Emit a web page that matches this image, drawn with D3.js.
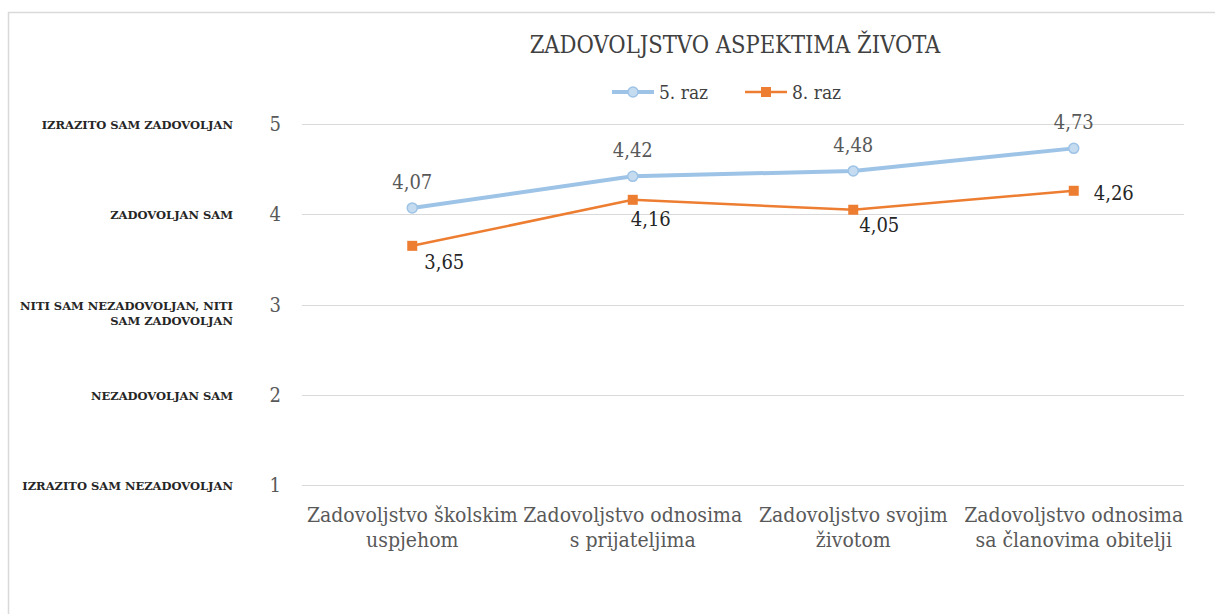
<!DOCTYPE html>
<html>
<head>
<meta charset="utf-8">
<script src="https://cdn.jsdelivr.net/npm/d3@7"></script>
<style>
  body { margin: 0; background: #fff; }
  text { font-family: "DejaVu Serif Condensed", "DejaVu Serif", serif; }
  .names text { font-family: "DejaVu Serif", serif; }
</style>
</head>
<body>
<div id="chart"></div>
<script>
// data
var categories = [
  ["Zadovoljstvo školskim", "uspjehom"],
  ["Zadovoljstvo odnosima", "s prijateljima"],
  ["Zadovoljstvo svojim", "životom"],
  ["Zadovoljstvo odnosima", "sa članovima obitelji"]
];
var raz5 = [4.07, 4.42, 4.48, 4.73];
var raz8 = [3.65, 4.16, 4.05, 4.26];
var yTicks = [1, 2, 3, 4, 5];
var yTickNames = [
  ["IZRAZITO SAM NEZADOVOLJAN"],
  ["NEZADOVOLJAN SAM"],
  ["NITI SAM NEZADOVOLJAN, NITI", "SAM ZADOVOLJAN"],
  ["ZADOVOLJAN SAM"],
  ["IZRAZITO SAM ZADOVOLJAN"]
];
var seriesNames = ["5. raz", "8. raz"];

var width = 1215, height = 614;

var svg = d3.select("#chart").append("svg")
  .attr("width", width)
  .attr("height", height);

// outer frame
svg.append("rect")
  .attr("x", 8.5).attr("y", 12.5)
  .attr("width", 1220).attr("height", 620)
  .attr("fill", "none")
  .attr("stroke", "#d9d9d9")
  .attr("stroke-width", 1.5);

var x = d3.scaleBand()
  .domain(d3.range(categories.length))
  .range([302, 1184]);

var y = d3.scaleLinear()
  .domain([1, 5])
  .range([485, 124]);

function cx(i) { return x(i) + x.bandwidth() / 2; }

// gridlines
svg.append("g")
  .selectAll("line")
  .data(yTicks)
  .enter().append("line")
    .attr("x1", 302).attr("x2", 1184)
    .attr("y1", function(d) { return Math.round(y(d)) + 0.5; })
    .attr("y2", function(d) { return Math.round(y(d)) + 0.5; })
    .attr("stroke", "#d9d9d9")
    .attr("stroke-width", 1.2);

// y tick numbers
svg.append("g")
  .selectAll("text")
  .data(yTicks)
  .enter().append("text")
    .attr("x", 281)
    .attr("y", function(d) { return y(d); })
    .attr("dy", "0.35em")
    .attr("text-anchor", "end")
    .attr("font-size", 20)
    .attr("fill", "#595959")
    .text(function(d) { return d; });

// y tick names (left column)
var names = svg.append("g")
  .attr("class", "names")
  .selectAll("text")
  .data(yTicks)
  .enter().append("text")
    .attr("text-anchor", "end")
    .attr("font-size", 11.5)
    .attr("font-weight", "bold")
    .attr("fill", "#262626")
    .attr("y", function(d) { return y(d) + 1; });

names.selectAll("tspan")
  .data(function(d, i) { return yTickNames[i]; })
  .enter().append("tspan")
    .attr("x", 233)
    .attr("dy", function(d, i) { return i === 0 ? "0.35em" : "15"; })
    .text(function(d) { return d; });

// x labels
var xl = svg.append("g")
  .selectAll("text")
  .data(categories)
  .enter().append("text")
    .attr("text-anchor", "middle")
    .attr("font-size", 21)
    .attr("fill", "#595959")
    .attr("y", 522);

xl.selectAll("tspan")
  .data(function(d) { return d; })
  .enter().append("tspan")
    .attr("x", function(d, i, n) {
      return cx(categories.indexOf(d3.select(n[i].parentNode).datum()));
    })
    .attr("dy", function(d, i) { return i === 0 ? 0 : 25; })
    .text(function(d) { return d; });

var line = d3.line()
  .x(function(d, i) { return cx(i); })
  .y(function(d) { return y(d); });

function fmt(v) { return d3.format(".2f")(v).replace(".", ","); }

// 5. raz series
svg.append("path")
  .datum(raz5)
  .attr("d", line)
  .attr("fill", "none")
  .attr("stroke", "#9dc3e6")
  .attr("stroke-width", 4);

svg.append("g")
  .selectAll("circle")
  .data(raz5)
  .enter().append("circle")
    .attr("cx", function(d, i) { return cx(i); })
    .attr("cy", function(d) { return y(d); })
    .attr("r", 5)
    .attr("fill", "#c5dcf0")
    .attr("stroke", "#9dc3e6")
    .attr("stroke-width", 1.5);

svg.append("g")
  .selectAll("text")
  .data(raz5)
  .enter().append("text")
    .attr("x", function(d, i) { return cx(i); })
    .attr("y", function(d) { return y(d) - 19; })
    .attr("text-anchor", "middle")
    .attr("font-size", 20)
    .attr("fill", "#595959")
    .text(fmt);

// 8. raz series
svg.append("path")
  .datum(raz8)
  .attr("d", line)
  .attr("fill", "none")
  .attr("stroke", "#ed7d31")
  .attr("stroke-width", 2.5);

svg.append("g")
  .selectAll("rect")
  .data(raz8)
  .enter().append("rect")
    .attr("x", function(d, i) { return cx(i) - 5; })
    .attr("y", function(d) { return y(d) - 5; })
    .attr("width", 10).attr("height", 10)
    .attr("fill", "#ed7d31");

// orange labels were nudged by hand in the original
var nudgeX = [32, 18, 26, 40];
var nudgeY = [23, 26, 22, 9];
svg.append("g")
  .selectAll("text")
  .data(raz8)
  .enter().append("text")
    .attr("x", function(d, i) { return cx(i) + nudgeX[i]; })
    .attr("y", function(d, i) { return y(d) + nudgeY[i]; })
    .attr("text-anchor", "middle")
    .attr("font-size", 20)
    .attr("fill", "#262626")
    .text(fmt);

// title
svg.append("text")
  .attr("x", 735)
  .attr("y", 53)
  .attr("text-anchor", "middle")
  .attr("font-size", 23.5)
  .attr("fill", "#404040")
  .text("ZADOVOLJSTVO ASPEKTIMA ŽIVOTA");

// legend
var legend = svg.append("g")
  .selectAll("g")
  .data(seriesNames)
  .enter().append("g")
    .attr("transform", function(d, i) { return "translate(" + (612 + i * 133) + ",92)"; });

legend.append("line")
  .attr("x1", 0).attr("x2", 42)
  .attr("stroke", function(d, i) { return i === 0 ? "#9dc3e6" : "#ed7d31"; })
  .attr("stroke-width", function(d, i) { return i === 0 ? 4 : 2.5; });

legend.append("circle")
  .filter(function(d, i) { return i === 0; })
  .attr("cx", 21).attr("r", 5)
  .attr("fill", "#c5dcf0")
  .attr("stroke", "#9dc3e6")
  .attr("stroke-width", 1.5);

legend.append("rect")
  .filter(function(d, i) { return i === 1; })
  .attr("x", 16).attr("y", -5)
  .attr("width", 10).attr("height", 10)
  .attr("fill", "#ed7d31");

legend.append("text")
  .attr("x", 47)
  .attr("dy", "0.35em")
  .attr("font-size", 19)
  .attr("fill", "#404040")
  .text(function(d) { return d; });
</script>
</body>
</html>
